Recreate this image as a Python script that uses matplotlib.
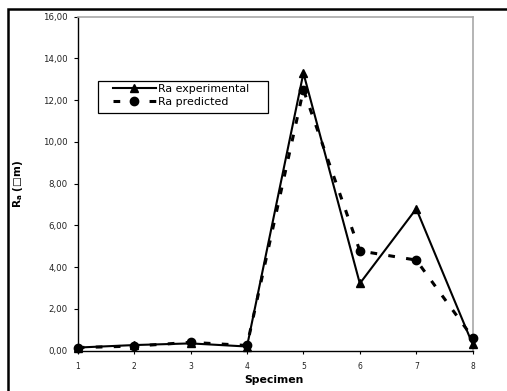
import matplotlib
matplotlib.use("Agg")
import matplotlib.pyplot as plt
from matplotlib.patches import Rectangle

specimen = [1, 2, 3, 4, 5, 6, 7, 8]
ra_experimental = [0.15, 0.27, 0.35, 0.20, 13.30, 3.22, 6.80, 0.30]
ra_predicted = [0.15, 0.22, 0.40, 0.25, 12.50, 4.78, 4.34, 0.63]
yticks = [0, 2, 4, 6, 8, 10, 12, 14, 16]
ytick_labels = ["0,00", "2,00", "4,00", "6,00", "8,00", "10,00", "12,00", "14,00", "16,00"]

plt.rcParams['font.family'] = ['DejaVu Sans']

W, H = 507, 391
def fx(px):
    return px / W
def fy(py):
    return 1 - py / H

fig = plt.figure(figsize=(W / 100, H / 100), dpi=100)
ax = fig.add_axes([fx(77.7), fy(350.7), (472.7 - 77.7) / W, (350.7 - 16.7) / H])

dash = (0, (2.2, 3.7))
ax.plot(specimen, ra_experimental, color='black', lw=1.5, marker='^', ms=6,
        label='Ra experimental', clip_on=False, zorder=3)
ax.plot(specimen, ra_predicted, color='black', lw=2.2, linestyle=dash, dash_capstyle='butt',
        marker='o', ms=6, label='Ra predicted', clip_on=False, zorder=3)

ax.set_xlim(1, 8)
ax.set_ylim(0, 16)
ax.set_xticks(specimen)
ax.set_xticklabels([str(s) for s in specimen], fontsize=5.5, color='#222222')
ax.set_yticks(yticks)
ax.set_yticklabels(ytick_labels, fontsize=6.2, color='#222222')
ax.tick_params(axis='y', direction='out', length=3.2, width=0.8, color='black', pad=4.3)
ax.tick_params(axis='x', direction='out', length=2.4, width=0.8, color='black', pad=5.5)

for s in ['left', 'bottom']:
    ax.spines[s].set_color('black')
    ax.spines[s].set_linewidth(1.0)
for s in ['top', 'right']:
    ax.spines[s].set_color('#a8a8a8')
    ax.spines[s].set_linewidth(1.2)

fig.text(fx(274), fy(380), 'Specimen', fontsize=7.8, fontweight='bold',
         ha='center', va='center')
fig.text(fx(18), fy(184), 'R$_\\mathbf{a}$ (□m)', fontsize=7.5, fontweight='bold',
         rotation=90, ha='center', va='center')

# legend
leg = ax.legend(loc='upper left', bbox_to_anchor=(fx(113), fy(84)),
                bbox_transform=fig.transFigure,
                prop={'size': 7.9}, frameon=False,
                borderpad=0, handlelength=3.9, handletextpad=0.2, labelspacing=0.3,
                borderaxespad=0)
fig.patches.append(Rectangle((fx(98), fy(113)), (268 - 98) / W, (113 - 81) / H,
                             transform=fig.transFigure, fill=False, edgecolor='black',
                             lw=0.9, zorder=5))

# outer chart border
fig.patches.append(Rectangle((fx(8), -0.1), 1.2, fy(9) + 0.1, transform=fig.transFigure,
                             fill=False, edgecolor='black', lw=1.8, clip_on=False))

fig.savefig('out.png', dpi=100)
